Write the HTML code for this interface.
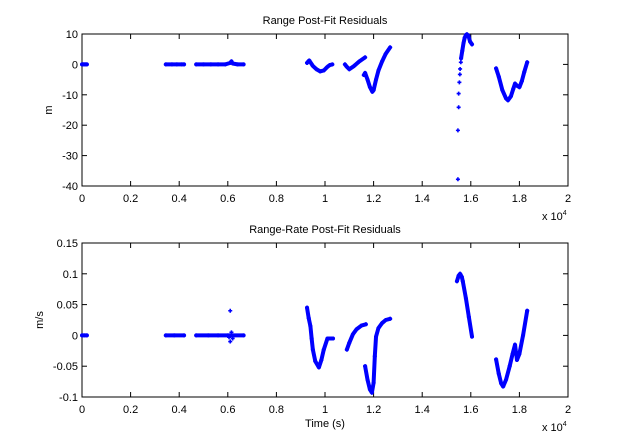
<!DOCTYPE html>
<html><head><meta charset="utf-8"><style>
body{margin:0;background:#fff;}
svg{display:block;font-family:"Liberation Sans",Arial,sans-serif;}
text{fill:#000;font-size:11px;}
</style></head><body>
<svg id="fig" width="628" height="447"></svg>
<script>
// Range residuals (t in 1e4 s, value m)
const rangeSegs = [
  {dots:false, t:[0.0,0.005,0.01,0.015,0.02], v:[0,0,0,0,0]},
  {dots:false, t:[0.345,0.37,0.39,0.41,0.42], v:[0,0,0,0,0]},
  {dots:false, t:[0.47,0.5,0.53,0.56,0.59,0.61,0.615,0.62,0.64,0.665], v:[0,0,0,0,0,0.5,1.0,0.3,0,0]},
  {dots:false, t:[0.926,0.935,0.95,0.965,0.98,0.995,1.01,1.02,1.03], v:[0.5,1.3,-0.5,-1.6,-2.3,-2.0,-0.8,-0.2,0]},
  {dots:false, t:[1.082,1.09,1.10,1.12,1.14,1.165], v:[0,-0.8,-1.6,-0.5,0.9,2.3]},
  {dots:false, t:[1.16,1.165,1.175,1.185,1.195,1.20,1.21,1.22,1.235,1.25,1.268], v:[-3.5,-2.8,-5,-7.5,-9,-8.5,-5,-2,1,3.5,5.6]},
  {dots:true, t:[1.547,1.547,1.550,1.550,1.553,1.555,1.556,1.559], v:[-37.8,-21.7,-14.1,-9.6,-5.9,-3.3,-1.5,0.7]},
  {dots:false, t:[1.56,1.565,1.57,1.575,1.58,1.584,1.59,1.597,1.605], v:[2,4.5,7,8.8,9.7,9.9,9.5,7.5,6.6]},
  {dots:false, t:[1.704,1.715,1.73,1.745,1.753,1.765,1.775,1.782,1.79,1.80,1.81,1.82,1.832], v:[-1.3,-4,-8.5,-11.2,-11.8,-10.5,-8,-6.3,-7,-7.5,-5.5,-2.5,0.7]}
];
// Range-rate residuals (t in 1e4 s, value m/s)
const rateSegs = [
  {dots:false, t:[0.0,0.01,0.02], v:[0,0,0]},
  {dots:false, t:[0.345,0.38,0.42], v:[0,0,0]},
  {dots:false, t:[0.47,0.52,0.56,0.6,0.665], v:[0,0,0,0,0]},
  {dots:true, t:[0.61,0.61,0.615,0.62,0.605], v:[0.04,-0.01,0.005,-0.005,-0.003]},
  {dots:false, t:[0.926,0.933,0.94,0.945,0.95,0.96,0.975,0.985,0.995,1.01,1.033], v:[0.045,0.028,0.015,-0.005,-0.023,-0.042,-0.052,-0.04,-0.023,-0.005,-0.005]},
  {dots:false, t:[1.09,1.10,1.115,1.13,1.15,1.168], v:[-0.023,-0.012,0.002,0.01,0.016,0.018]},
  {dots:false, t:[1.165,1.175,1.185,1.193,1.20,1.205,1.21,1.22,1.235,1.25,1.268], v:[-0.05,-0.072,-0.088,-0.093,-0.077,-0.034,-0.002,0.012,0.02,0.025,0.027]},
  {dots:false, t:[1.543,1.55,1.556,1.563,1.567,1.58,1.592,1.605], v:[0.088,0.097,0.1,0.095,0.088,0.06,0.03,-0.002]},
  {dots:false, t:[1.704,1.715,1.725,1.733,1.745,1.76,1.772,1.782,1.79,1.80,1.815,1.832], v:[-0.039,-0.062,-0.078,-0.083,-0.072,-0.05,-0.03,-0.015,-0.04,-0.03,0.0,0.04]}
];
const xTicks = [0,0.2,0.4,0.6,0.8,1,1.2,1.4,1.6,1.8,2];
const rangeYTicks = [10,0,-10,-20,-30,-40];
const rateYTicks = [0.15,0.1,0.05,0,-0.05,-0.1];

const NS="http://www.w3.org/2000/svg";
const svg=document.getElementById('fig');
function el(tag,attrs,parent){const e=document.createElementNS(NS,tag);for(const k in attrs)e.setAttribute(k,attrs[k]);(parent||svg).appendChild(e);return e;}

function panel(cfg){
  const L=82,R=568,T=cfg.top,B=cfg.bottom;
  const xs=t=>L+(t-0)/(2-0)*(R-L);
  const ys=v=>B-(v-cfg.ymin)/(cfg.ymax-cfg.ymin)*(B-T);
  const g=el('g',{});
  
  
  const box=el('rect',{x:L,y:T,width:R-L,height:B-T,fill:'#fff',stroke:'#000','stroke-width':1},g);
  
  
  xTicks.forEach(t=>{
    const x=xs(t);
    el('line',{x1:x,y1:B,x2:x,y2:B-5,stroke:'#000'},g);
    el('line',{x1:x,y1:T,x2:x,y2:T+5,stroke:'#000'},g);
    const tx=el('text',{x:x,y:B+16,'text-anchor':'middle'},g);
    tx.textContent=String(t);
    
    
  });
  cfg.yTicks.forEach(v=>{
    const y=ys(v);
    el('line',{x1:L,y1:y,x2:L+5,y2:y,stroke:'#000'},g);
    el('line',{x1:R,y1:y,x2:R-5,y2:y,stroke:'#000'},g);
    const ty=el('text',{x:L-4,y:y+4,'text-anchor':'end'},g);
    ty.textContent=String(v);
    
    
  });
  const ti=el('text',{x:(L+R)/2,y:T-10,'text-anchor':'middle','font-size':'10'},g);
  ti.textContent=cfg.title;
  
  
  const yl=el('text',{x:0,y:0,'text-anchor':'middle','font-size':'10',transform:`translate(${cfg.ylx},${(T+B)/2}) rotate(-90)`},g);
  yl.textContent=cfg.ylabel;
  
  
  const ex=el('text',{x:542,y:B+34,'font-size':'10'},g);
  ex.innerHTML='x 10<tspan dy="-5" font-size="7">4</tspan>';
  
  
  cfg.segs.forEach(s=>{
    const pts=s.t.map((t,i)=>[xs(t),ys(s.v[i])]);
    if(!s.dots){
      const pl=el('polyline',{points:pts.map(p=>p.join(',')).join(' '),fill:'none',stroke:'#0000ff','stroke-width':4,'stroke-linejoin':'round','stroke-linecap':'round'},g);
      
      
    }
    pts.forEach(p=>{
      const m=el('path',{d:`M${p[0]-2},${p[1]}h4M${p[0]},${p[1]-2}v4`,stroke:'#0000ff','stroke-width':1.6},g);
      
      
    });
  });
}
panel({name:'range-residuals-chart',top:34,bottom:186,ymin:-40,ymax:10,yTicks:rangeYTicks,segs:rangeSegs,title:'Range Post-Fit Residuals',ylabel:'m',ylx:52});
panel({name:'range-rate-residuals-chart',top:243,bottom:397,ymin:-0.1,ymax:0.15,yTicks:rateYTicks,segs:rateSegs,title:'Range-Rate Post-Fit Residuals',ylabel:'m/s',ylx:43});
const xl=el('text',{x:325,y:427,'text-anchor':'middle','font-size':'10'});
xl.textContent='Time (s)';


</script>
</body></html>
